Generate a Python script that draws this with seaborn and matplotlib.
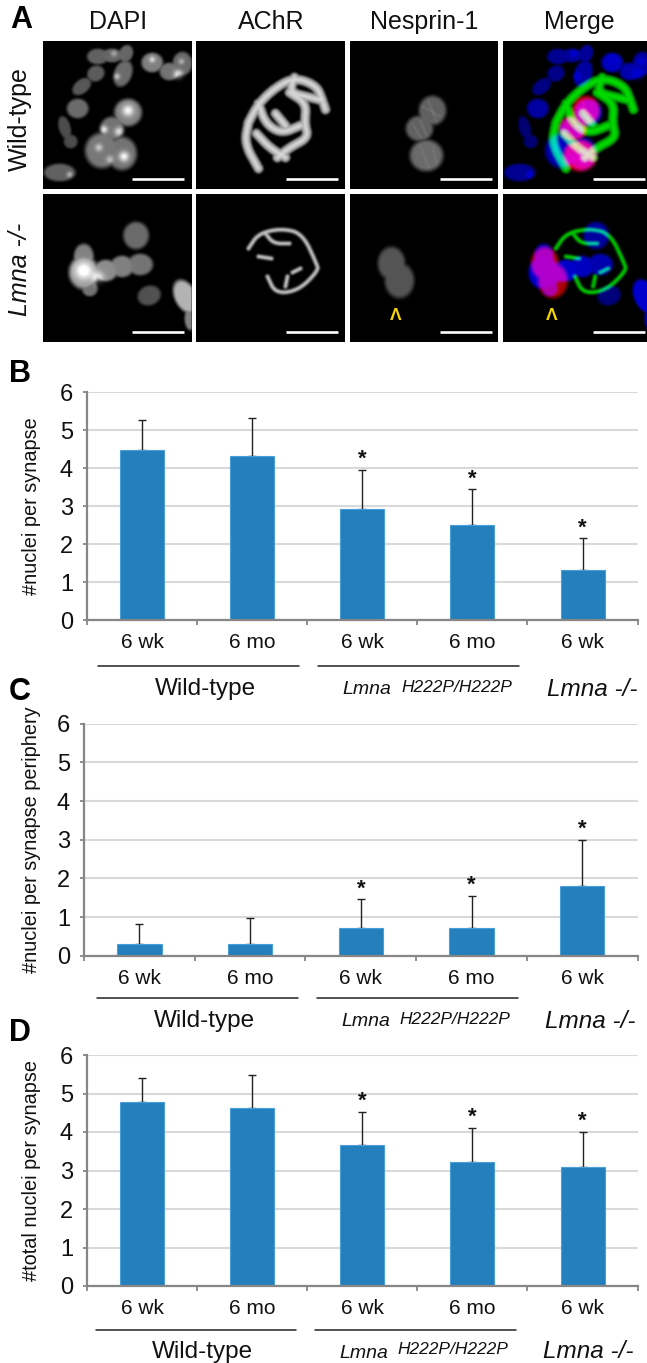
import numpy as np
import pandas as pd
import seaborn as sns
import matplotlib.pyplot as plt

W, H = 647, 1363

# chart values
groups = ["wt_6wk", "wt_6mo", "h222p_6wk", "h222p_6mo", "ko_6wk"]
age_labels = ["6 wk", "6 mo", "6 wk", "6 mo", "6 wk"]
y_ticks = [0, 1, 2, 3, 4, 5, 6]

b_values = [4.47, 4.31, 2.93, 2.50, 1.31]
b_err_top = [5.26, 5.31, 3.95, 3.44, 2.15]
b_stars = [False, False, True, True, True]

c_values = [0.29, 0.31, 0.71, 0.71, 1.80]
c_err_top = [0.81, 0.98, 1.46, 1.54, 3.00]
c_stars = [False, False, True, True, True]

d_values = [4.78, 4.63, 3.67, 3.23, 3.10]
d_err_top = [5.41, 5.49, 4.53, 4.10, 4.00]
d_stars = [False, False, True, True, True]

panel_cols = ["DAPI", "AChR", "Nesprin-1", "Merge"]
panel_rows = ["Wild-type", "Lmna -/-"]

# microscopy shapes, in panel pixels: x, y, rx, ry, angle, brightness
dapi_wt = [(54, 15, 11, 8, 0, .38), (68, 14, 11, 7, 0, .4), (82, 12, 7, 9, 20, .4),
           (79, 32, 9, 14, 20, .42), (52, 32, 9, 8, -30, .36), (38, 45, 11, 7, -40, .34),
           (108, 21, 11, 10, 0, .5), (125, 30, 10, 9, 0, .45), (138, 22, 10, 12, 0, .42),
           (34, 67, 11, 10, 0, .42), (84, 71, 14, 14, 0, .5), (68, 87, 12, 12, 0, .45),
           (21, 86, 6, 12, -15, .3), (27, 100, 7, 7, 0, .3), (58, 109, 17, 18, 0, .47),
           (78, 112, 15, 17, 0, .45), (16, 131, 16, 9, 0, .38)]
dapi_wt_spots = [(84, 69, 4, .5), (60, 88, 2.5, .5), (75, 90, 3, .45), (80, 115, 3.5, .55),
                 (55, 106, 2.5, .35), (66, 118, 2.5, .3), (108, 18, 2, .4), (134, 33, 3, .55),
                 (137, 20, 2, .3), (73, 35, 2, .4), (70, 12, 2, .3), (26, 133, 2, .35)]
dapi_ko = [(40, 62, 10, 13, 0, .5), (40, 78, 15, 17, 0, .6), (46, 94, 8, 8, 0, .45),
           (62, 76, 12, 11, 0, .55), (78, 72, 12, 11, 0, .5), (96, 70, 13, 11, 0, .46),
           (92, 41, 13, 14, 0, .42), (105, 101, 12, 10, -20, .32), (141, 102, 11, 18, -25, .7),
           (146, 124, 6, 12, 0, .5)]
dapi_ko_spots = [(40, 76, 6, .5), (54, 83, 4, .4)]

achr_wt = [[(52, 81), (62, 62), (79, 46), (98, 36), (120, 44), (126, 59)],
           [(98, 36), (93, 51), (114, 56), (126, 59)],
           [(93, 51), (110, 62), (108, 82), (112, 96), (93, 106), (81, 116)],
           [(52, 81), (48, 102), (62, 127)],
           [(62, 62), (69, 82), (85, 92), (104, 84)],
           [(60, 92), (73, 106), (89, 116)],
           [(79, 72), (89, 84)],
           [(127, 62), (129, 68)]]
achr_ko = [[(52, 54), (62, 39), (85, 34), (106, 39), (120, 69), (122, 76), (102, 96), (79, 99), (71, 82)],
           [(89, 92), (91, 82)],
           [(62, 62), (75, 64)],
           [(69, 39), (77, 49), (93, 49)],
           [(96, 78), (104, 74)]]

nesprin_wt = [(82, 69, 14, 15, 0, .38), (69, 87, 14, 13, 0, .38), (76, 114, 17, 16, 0, .42)]
nesprin_wt_lines = [[(72, 65), (90, 75)], [(78, 60), (86, 80)], [(62, 82), (70, 96)],
                    [(70, 80), (76, 94)], [(70, 105), (78, 125)], [(82, 106), (86, 122)]]
nesprin_ko = [(41, 69, 14, 17, 0, .33), (49, 86, 15, 18, 0, .33)]


def blank(w):
    return np.zeros((148, w))


def add_blobs(img, blobs):
    yy, xx = np.mgrid[0:img.shape[0], 0:img.shape[1]]
    for x, y, rx, ry, ang, val in blobs:
        t = np.deg2rad(ang)
        dx = (xx - x) * np.cos(t) + (yy - y) * np.sin(t)
        dy = -(xx - x) * np.sin(t) + (yy - y) * np.cos(t)
        d = np.sqrt((dx / rx) ** 2 + (dy / ry) ** 2)
        img[:] = np.maximum(img, val * np.clip((1.12 - d) / 0.3, 0, 1))


def add_spots(img, spots):
    yy, xx = np.mgrid[0:img.shape[0], 0:img.shape[1]]
    for x, y, r, val in spots:
        img += val * np.exp(-((xx - x) ** 2 + (yy - y) ** 2) / (2 * r ** 2))


def smooth_path(pts):
    # corner cutting so the synapse outlines are not angular
    pts = np.array(pts, dtype=float)
    for _ in range(3):
        if len(pts) < 3:
            break
        q = 0.75 * pts[:-1] + 0.25 * pts[1:]
        r = 0.25 * pts[:-1] + 0.75 * pts[1:]
        mid = np.empty((2 * len(q), 2))
        mid[0::2] = q
        mid[1::2] = r
        pts = np.vstack([pts[0], mid, pts[-1]])
    return pts


def add_lines(img, lines, half, val):
    yy, xx = np.mgrid[0:img.shape[0], 0:img.shape[1]]
    for pts in lines:
        pts = smooth_path(pts)
        for (x0, y0), (x1, y1) in zip(pts[:-1], pts[1:]):
            vx, vy = x1 - x0, y1 - y0
            s = np.clip(((xx - x0) * vx + (yy - y0) * vy) / max(vx ** 2 + vy ** 2, 1e-6), 0, 1)
            dist = np.hypot(xx - x0 - s * vx, yy - y0 - s * vy)
            core = val * np.clip((half + 1 - dist) / 2, 0, 1)
            img[:] = np.maximum(img, core * (0.7 + 0.3 * np.exp(-(dist / (half * .5)) ** 2)))


def soften(img, n=3):
    kernel = np.ones(n) / n
    out = np.apply_along_axis(lambda v: np.convolve(v, kernel, mode="same"), 0, img)
    return np.apply_along_axis(lambda v: np.convolve(v, kernel, mode="same"), 1, out)


def microscopy(row, w):
    dapi, achr, nesp = blank(w), blank(w), blank(w)
    if row == 0:
        add_blobs(dapi, dapi_wt)
        add_spots(dapi, dapi_wt_spots)
        add_lines(achr, achr_wt, 4.8, .85)
        add_blobs(nesp, nesprin_wt)
        add_lines(nesp, nesprin_wt_lines, 1, .6)
    else:
        add_blobs(dapi, dapi_ko)
        add_spots(dapi, dapi_ko_spots)
        add_lines(achr, achr_ko, 2.2, .8)
        add_blobs(nesp, nesprin_ko)
    return [np.clip(soften(a), 0, 1) for a in (dapi, achr, nesp)]


sns.set_theme(style="white")
plt.rcParams["font.family"] = ["Liberation Sans", "DejaVu Sans"]
plt.rcParams["axes.unicode_minus"] = False
fig = plt.figure(figsize=(W / 100, H / 100), dpi=100)


def px_axes(x0, y0, x1, y1):
    return fig.add_axes([x0 / W, 1 - y1 / H, (x1 - x0) / W, (y1 - y0) / H])


def ftext(x, y, s, **kw):
    kw.setdefault("ha", "center")
    kw.setdefault("va", "center")
    kw.setdefault("color", "#111111")
    return fig.text(x / W, 1 - y / H, s, **kw)


# panel A
col_x = [(42.5, 191), (196, 345), (350, 498), (503, 647)]
row_y = [(41, 189), (194, 342)]
for r, (y0, y1) in enumerate(row_y):
    for c, (x0, x1) in enumerate(col_x):
        w = int(round(x1 - x0))
        dapi, achr, nesp = microscopy(r, w)
        ax = px_axes(x0, y0, x1, y1)
        if c == 3:
            rgb = np.dstack([np.clip(nesp * 2.1, 0, .9), np.clip(achr * 1.05, 0, .85), np.clip(dapi * 1.5, 0, .8)])
            ax.imshow(rgb, aspect="auto", interpolation="bilinear")
        else:
            ax.imshow([dapi, achr, nesp][c], cmap="gray", vmin=0, vmax=1, aspect="auto", interpolation="bilinear")
        ax.plot([89, 141], [137.5, 137.5], color="white", lw=1.9, solid_capstyle="butt")
        ax.set_xlim(-0.5, w - 0.5)
        ax.set_ylim(147.5, -0.5)
        ax.axis("off")

centers = [118, 271, 424, 579]
for x, name in zip(centers, panel_cols):
    ftext(x, 22, name, fontsize=18)
ftext(20, 119, panel_rows[0], fontsize=18, rotation=90)
ftext(20, 269, panel_rows[1], fontsize=18, rotation=90, style="italic")
ftext(396, 315, "Λ", fontsize=12.5, color="#f6d500", fontweight="bold")
ftext(552, 315, "Λ", fontsize=12.5, color="#f6d500", fontweight="bold")

ftext(21, 20, "A", fontsize=22, fontweight="bold", color="black")
ftext(20, 374, "B", fontsize=22, fontweight="bold", color="black")
ftext(20, 692, "C", fontsize=22, fontweight="bold", color="black")
ftext(20, 1033, "D", fontsize=22, fontweight="bold", color="black")


def draw_chart(values, err_top, stars, ylabel, box, label_x, rows, lines, names):
    x0, y0, x1, y1 = box
    ax = px_axes(x0, y0, x1, y1)
    df = pd.DataFrame({"group": groups, "value": values})
    ax.yaxis.grid(True, color="#d9d9d9", lw=1.5, zorder=0)
    ax.set_axisbelow(True)
    sns.barplot(data=df, x="group", y="value", order=groups, color="#2380bc", saturation=1,
                width=0.4, errorbar=None, edgecolor="#4a9fd8", linewidth=0.8, zorder=2, ax=ax)
    pos = np.arange(len(groups))
    # behind the bars, so only the upper half and upper cap show
    ax.errorbar(pos, values, yerr=[np.zeros(len(values)), np.array(err_top) - np.array(values)],
                fmt="none", ecolor="#222222", elinewidth=1, capsize=2.6, capthick=1, zorder=1.5)
    ax.set_xlim(-0.5, 4.5)
    ax.set_ylim(0, 6)
    ax.set_xticks(np.arange(-0.5, 5, 1))
    ax.set_xticklabels([])
    ax.set_yticks(y_ticks)
    ax.set_xlabel("")
    ax.set_ylabel("")
    ax.tick_params(axis="x", bottom=True, length=3.5, width=1.3, color="#868686")
    ax.tick_params(axis="y", left=True, length=3, width=1.3, color="#868686", pad=7, labelsize=17, labelcolor="#111111")
    for side in ["top", "right"]:
        ax.spines[side].set_visible(False)
    for side in ["left", "bottom"]:
        ax.spines[side].set_color("#868686")
        ax.spines[side].set_linewidth(1.6)
    for i, top in enumerate(err_top):
        if stars[i]:
            ax.annotate("*", (i, top), xytext=(0, 0), textcoords="offset points", ha="center", va="bottom",
                        fontsize=16, fontweight="bold", color="#111111")
    ftext(label_x, (y0 + y1) / 2, ylabel, fontsize=14.3, rotation=90)

    # labels under the axis
    cell = (x1 - x0) / 5
    for i, lab in enumerate(age_labels):
        ftext(x0 + cell * (i + 0.5), rows[0], lab, fontsize=15)
    for a, b in lines:
        fig.add_artist(plt.Line2D([a / W, b / W], [1 - rows[1] / H] * 2, color="#222222", lw=1.1))
    ftext(names[0], rows[2], "Wild-type", fontsize=17.5)
    ftext(names[1], rows[2] + 1, "Lmna", fontsize=14, style="italic", ha="left")
    ftext(names[2], rows[2] - 2, "H222P/H222P", fontsize=12.5, style="italic", ha="left")
    ftext(names[3], rows[2], "Lmna -/-", fontsize=17.5, style="italic", ha="left")


draw_chart(b_values, b_err_top, b_stars, "#nuclei per synapse", (87, 392, 637.6, 620), 32,
           (643, 666, 689), [(98, 299), (318, 519)], (205, 342, 401, 547))
draw_chart(c_values, c_err_top, c_stars, "#nuclei per synapse periphery", (84, 723.7, 637.6, 955.7), 32,
           (978, 998, 1021), [(97, 298), (317, 518)], (204, 341, 399, 545))
draw_chart(d_values, d_err_top, d_stars, "#total nuclei per synapse", (87, 1055, 637.6, 1286), 32,
           (1309, 1330, 1352), [(95.5, 296), (315, 516)], (202.5, 339, 397, 543))

fig.savefig("out.png", dpi=100)
